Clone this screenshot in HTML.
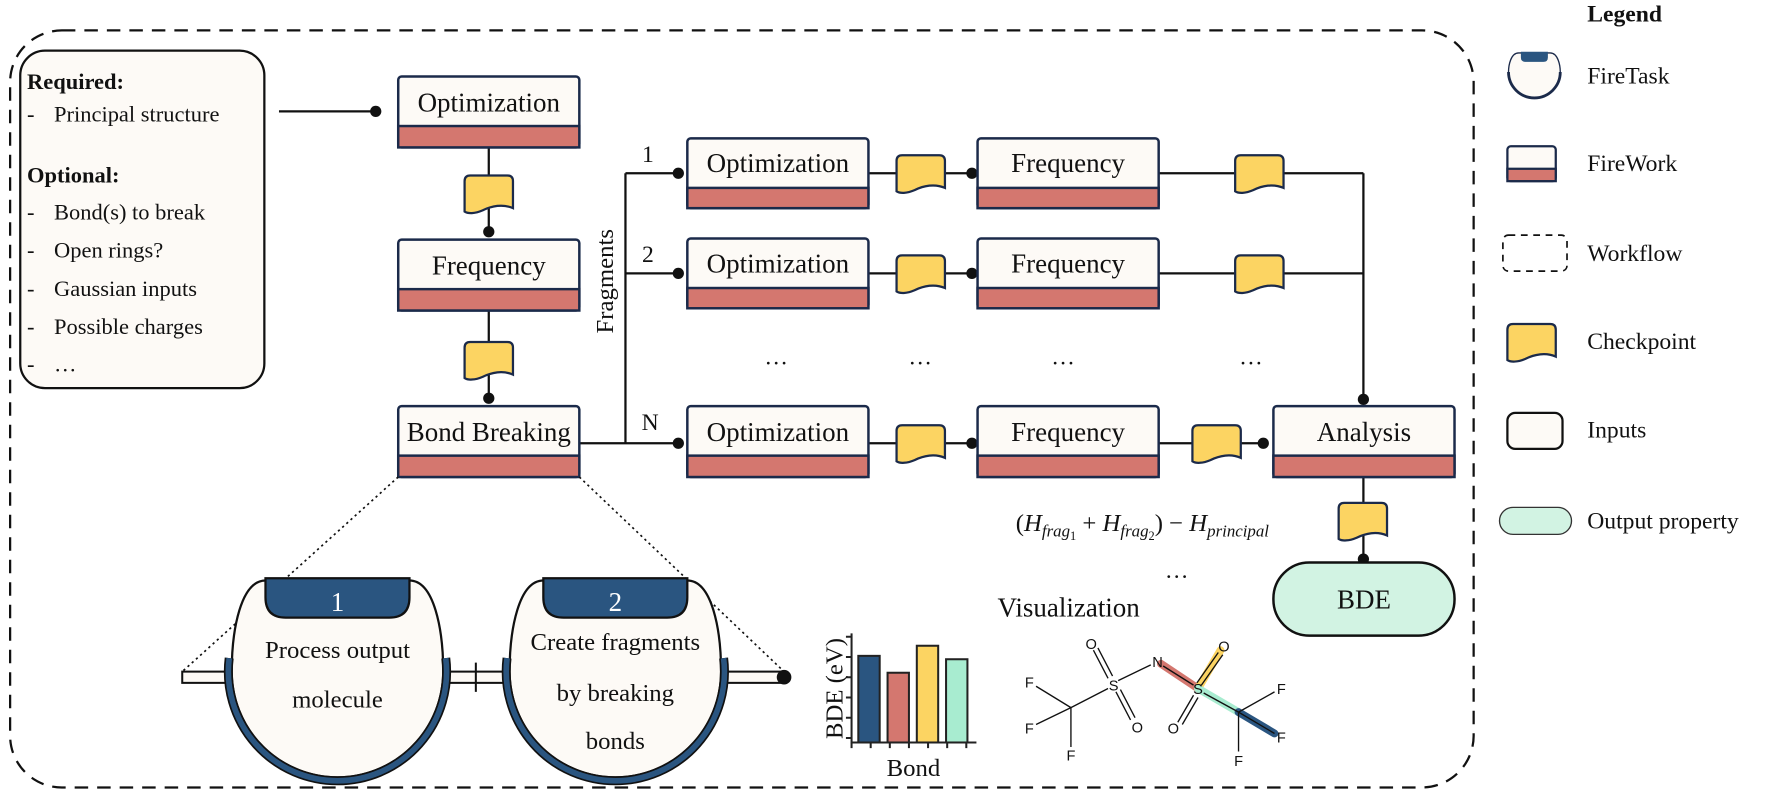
<!DOCTYPE html>
<html><head><meta charset="utf-8"><style>
html,body{margin:0;padding:0;background:#fff;}
svg{display:block;}
text{font-family:"Liberation Serif",serif;fill:#111;}
.sans text{font-family:"Liberation Sans",sans-serif;}
</style></head><body>
<svg width="1765" height="799" viewBox="0 0 1569 710.2" xmlns="http://www.w3.org/2000/svg">
<defs>
<path id="cp" d="M0,5 Q0,0 5,0 L38,0 Q43,0 43,5 L43,29 C34,25 24,27 16,31 C9,34 3,34 0,32 Z" fill="#fcd462" stroke="#1b2a4a" stroke-width="2"/>
</defs>
<rect x="9" y="27" width="1301" height="673" rx="46" fill="none" stroke="#111" stroke-width="2" stroke-dasharray="12,8"/>
<rect x="18" y="45" width="217" height="300" rx="22" fill="#fdfaf6" stroke="#111" stroke-width="2"/>
<g font-size="20">
<text x="24" y="79" font-weight="bold">Required:</text>
<text x="24" y="108">-</text><text x="48" y="108">Principal structure</text>
<text x="24" y="162" font-weight="bold">Optional:</text>
<text x="24" y="195">-</text><text x="48" y="195">Bond(s) to break</text>
<text x="24" y="229">-</text><text x="48" y="229">Open rings?</text>
<text x="24" y="263">-</text><text x="48" y="263">Gaussian inputs</text>
<text x="24" y="297">-</text><text x="48" y="297">Possible charges</text>
<text x="24" y="330">-</text><text x="48" y="330">…</text>
</g>
<g stroke="#111" stroke-width="2" fill="none">
<line x1="248" y1="99" x2="334" y2="99"/>
<line x1="434.5" y1="131" x2="434.5" y2="206"/>
<line x1="434.5" y1="276" x2="434.5" y2="354"/>
<line x1="515" y1="394" x2="603" y2="394"/>
<line x1="556" y1="154" x2="556" y2="394"/>
<line x1="556" y1="154" x2="603" y2="154"/>
<line x1="556" y1="243" x2="603" y2="243"/>
<line x1="772" y1="154" x2="864" y2="154"/>
<line x1="772" y1="243" x2="864" y2="243"/>
<line x1="772" y1="394" x2="864" y2="394"/>
<line x1="1030" y1="154" x2="1212" y2="154"/>
<line x1="1030" y1="243" x2="1212" y2="243"/>
<line x1="1212" y1="154" x2="1212" y2="355"/>
<line x1="1030" y1="394" x2="1123" y2="394"/>
<line x1="1212" y1="424" x2="1212" y2="497"/>
</g>
<g fill="#111">
<circle cx="334" cy="99" r="5"/><circle cx="434.5" cy="206" r="5"/><circle cx="434.5" cy="354" r="5"/>
<circle cx="603" cy="154" r="5"/><circle cx="603" cy="243" r="5"/><circle cx="603" cy="394" r="5"/>
<circle cx="864" cy="154" r="5"/><circle cx="864" cy="243" r="5"/><circle cx="864" cy="394" r="5"/>
<circle cx="1212" cy="355" r="5"/><circle cx="1123" cy="394" r="5"/><circle cx="1212" cy="497" r="5"/>
</g>
<use href="#cp" x="413" y="156"/><use href="#cp" x="413" y="304"/>
<use href="#cp" x="797" y="138"/><use href="#cp" x="797" y="227"/><use href="#cp" x="797" y="378"/>
<use href="#cp" x="1098" y="138"/><use href="#cp" x="1098" y="227"/><use href="#cp" x="1060" y="378"/>
<use href="#cp" x="1190" y="447"/>
<g font-size="24" text-anchor="middle">
<rect x="354" y="68" width="161" height="63" rx="3" fill="#fdfaf6" stroke="#1b2a4a" stroke-width="2.2"/><rect x="354" y="112" width="161" height="19" fill="#d4776f" stroke="#1b2a4a" stroke-width="2.2"/><text x="434.5" y="99">Optimization</text>
<rect x="354" y="213" width="161" height="63" rx="3" fill="#fdfaf6" stroke="#1b2a4a" stroke-width="2.2"/><rect x="354" y="257" width="161" height="19" fill="#d4776f" stroke="#1b2a4a" stroke-width="2.2"/><text x="434.5" y="244">Frequency</text>
<rect x="354" y="361" width="161" height="63" rx="3" fill="#fdfaf6" stroke="#1b2a4a" stroke-width="2.2"/><rect x="354" y="405" width="161" height="19" fill="#d4776f" stroke="#1b2a4a" stroke-width="2.2"/><text x="434.5" y="392">Bond Breaking</text>
<rect x="611" y="123" width="161" height="62" rx="3" fill="#fdfaf6" stroke="#1b2a4a" stroke-width="2.2"/><rect x="611" y="167" width="161" height="18" fill="#d4776f" stroke="#1b2a4a" stroke-width="2.2"/><text x="691.5" y="153">Optimization</text>
<rect x="869" y="123" width="161" height="62" rx="3" fill="#fdfaf6" stroke="#1b2a4a" stroke-width="2.2"/><rect x="869" y="167" width="161" height="18" fill="#d4776f" stroke="#1b2a4a" stroke-width="2.2"/><text x="949.5" y="153">Frequency</text>
<rect x="611" y="212" width="161" height="62" rx="3" fill="#fdfaf6" stroke="#1b2a4a" stroke-width="2.2"/><rect x="611" y="256" width="161" height="18" fill="#d4776f" stroke="#1b2a4a" stroke-width="2.2"/><text x="691.5" y="242">Optimization</text>
<rect x="869" y="212" width="161" height="62" rx="3" fill="#fdfaf6" stroke="#1b2a4a" stroke-width="2.2"/><rect x="869" y="256" width="161" height="18" fill="#d4776f" stroke="#1b2a4a" stroke-width="2.2"/><text x="949.5" y="242">Frequency</text>
<rect x="611" y="361" width="161" height="63" rx="3" fill="#fdfaf6" stroke="#1b2a4a" stroke-width="2.2"/><rect x="611" y="405" width="161" height="19" fill="#d4776f" stroke="#1b2a4a" stroke-width="2.2"/><text x="691.5" y="392">Optimization</text>
<rect x="869" y="361" width="161" height="63" rx="3" fill="#fdfaf6" stroke="#1b2a4a" stroke-width="2.2"/><rect x="869" y="405" width="161" height="19" fill="#d4776f" stroke="#1b2a4a" stroke-width="2.2"/><text x="949.5" y="392">Frequency</text>
<rect x="1132" y="361" width="161" height="63" rx="3" fill="#fdfaf6" stroke="#1b2a4a" stroke-width="2.2"/><rect x="1132" y="405" width="161" height="19" fill="#d4776f" stroke="#1b2a4a" stroke-width="2.2"/><text x="1212.5" y="392">Analysis</text>
<rect x="1132" y="500" width="161" height="65" rx="32" fill="#d2f3e3" stroke="#111" stroke-width="2.2"/><text x="1212.5" y="541">BDE</text>
<text x="950" y="548">Visualization</text>
</g>
<g font-size="21" text-anchor="middle">
<text x="576" y="144">1</text><text x="576" y="233">2</text><text x="578" y="382">N</text>
<text x="690" y="324">…</text><text x="818" y="324">…</text><text x="945" y="324">…</text><text x="1112" y="324">…</text>
<text x="1046" y="514">…</text>
</g>
<text x="0" y="0" font-size="22" text-anchor="middle" transform="translate(545,250) rotate(-90)">Fragments</text>
<text x="903" y="472" font-size="22">(<tspan font-style="italic">H</tspan><tspan font-style="italic" font-size="15" dy="5">frag</tspan><tspan font-size="11" dy="3">1</tspan><tspan dy="-8"> + </tspan><tspan font-style="italic">H</tspan><tspan font-style="italic" font-size="15" dy="5">frag</tspan><tspan font-size="11" dy="3">2</tspan><tspan dy="-8">) − </tspan><tspan font-style="italic">H</tspan><tspan font-style="italic" font-size="15" dy="5">principal</tspan></text>
<g stroke="#111" stroke-width="1.5" stroke-dasharray="2,3" fill="none">
<line x1="354" y1="424" x2="162" y2="597"/>
<line x1="515" y1="424" x2="697" y2="597"/>
</g>
<g stroke="#111" stroke-width="1.8">
<rect x="162" y="597" width="50" height="10" fill="#fdfaf6"/>
<rect x="390" y="597" width="66" height="10" fill="#fdfaf6"/>
<rect x="637" y="597" width="60" height="10" fill="#fdfaf6"/>
<line x1="423" y1="589" x2="423" y2="615"/>
</g>
<circle cx="697" cy="602" r="6.5" fill="#111"/>
<g>
<path d="M236,516 C214,516 206,560 206,597 A94,94 0 0 0 394,597 C394,560 386,516 364,516 Z" fill="#fdfaf6" stroke="#111" stroke-width="2"/>
<path d="M203.75,585 A97,97 0 1 0 396.25,585" fill="none" stroke="#111" stroke-width="8"/>
<path d="M203.75,585 A97,97 0 1 0 396.25,585" fill="none" stroke="#2a5580" stroke-width="5"/>
<path d="M236,514 L364,514 L364,531 Q364,549 346,549 L254,549 Q236,549 236,531 Z" fill="#2a5580" stroke="#111" stroke-width="2"/>
</g>
<g transform="translate(247,0)">
<path d="M236,516 C214,516 206,560 206,597 A94,94 0 0 0 394,597 C394,560 386,516 364,516 Z" fill="#fdfaf6" stroke="#111" stroke-width="2"/>
<path d="M203.75,585 A97,97 0 1 0 396.25,585" fill="none" stroke="#111" stroke-width="8"/>
<path d="M203.75,585 A97,97 0 1 0 396.25,585" fill="none" stroke="#2a5580" stroke-width="5"/>
<path d="M236,514 L364,514 L364,531 Q364,549 346,549 L254,549 Q236,549 236,531 Z" fill="#2a5580" stroke="#111" stroke-width="2"/>
</g>
<g font-size="22" text-anchor="middle">
<text x="300" y="543" style="fill:#fff" font-size="24">1</text>
<text x="547" y="543" style="fill:#fff" font-size="24">2</text>
<text x="300" y="585">Process output</text>
<text x="300" y="629">molecule</text>
<text x="547" y="578">Create fragments</text>
<text x="547" y="623">by breaking</text>
<text x="547" y="666">bonds</text>
</g>
<g stroke="#222" stroke-width="1.8">
<rect x="763" y="583" width="19" height="77" fill="#2a5580"/>
<rect x="789" y="598" width="19" height="62" fill="#d4776f"/>
<rect x="815" y="574" width="19" height="86" fill="#fcd462"/>
<rect x="841" y="586" width="19" height="74" fill="#a8ecd0"/>
<polyline points="757,563 757,660 868,660" fill="none"/>
<path d="M752,566H757M752,584H757M752,602H757M752,620H757M752,638H757M752,656H757M757,660V665M774,660V665M791,660V665M808,660V665M825,660V665M842,660V665M859,660V665" fill="none"/>
</g>
<text x="0" y="0" font-size="22" text-anchor="middle" transform="translate(749,612) rotate(-90)">BDE (eV)</text>
<text x="812" y="690" font-size="22" text-anchor="middle">Bond</text>
<g stroke-linecap="round">
<line x1="1032" y1="590" x2="1065" y2="612" stroke="#d4776f" stroke-width="7"/>
<line x1="1065" y1="612" x2="1085" y2="578" stroke="#fcd462" stroke-width="7"/>
<line x1="1065" y1="612" x2="1101" y2="633" stroke="#a8ecd0" stroke-width="7"/>
<line x1="1101" y1="633" x2="1133" y2="652" stroke="#2a5580" stroke-width="7"/>
</g>
<g stroke="#111" stroke-width="1.2" fill="none">
<line x1="921" y1="610" x2="952" y2="629"/>
<line x1="921" y1="644" x2="952" y2="629"/>
<line x1="952" y1="629" x2="952" y2="664"/>
<line x1="952" y1="629" x2="985" y2="612"/>
<line x1="994" y1="605" x2="1023" y2="591"/>
<line x1="972" y1="578" x2="985" y2="603"/><line x1="976" y1="576" x2="989" y2="601"/>
<line x1="992" y1="615" x2="1005" y2="640"/><line x1="996" y1="613" x2="1009" y2="638"/>
<line x1="1034" y1="592" x2="1061" y2="609"/>
<line x1="1064" y1="607" x2="1083" y2="580"/><line x1="1068" y1="609" x2="1087" y2="582"/>
<line x1="1047" y1="642" x2="1061" y2="618"/><line x1="1051" y1="644" x2="1065" y2="620"/>
<line x1="1070" y1="616" x2="1101" y2="633"/>
<line x1="1101" y1="633" x2="1133" y2="615"/>
<line x1="1101" y1="633" x2="1133" y2="652"/>
<line x1="1101" y1="633" x2="1101" y2="668"/>
</g>
<g class="sans" font-size="13" text-anchor="middle">
<text x="915" y="611">F</text><text x="915" y="652">F</text><text x="952" y="676">F</text>
<text x="990" y="614">S</text><text x="970" y="577">O</text><text x="1011" y="651">O</text>
<text x="1029" y="593">N</text><text x="1065" y="617">S</text>
<text x="1088" y="579">O</text><text x="1043" y="652">O</text>
<text x="1139" y="617">F</text><text x="1139" y="660">F</text><text x="1101" y="681">F</text>
</g>
<text x="1411" y="19" font-size="21" font-weight="bold">Legend</text>
<g>
<path d="M1350,47 C1343,47 1341,58 1341,64 A23,23 0 0 0 1387,64 C1387,58 1385,47 1378,47 Z" fill="#fdfaf6" stroke="#1b2a4a" stroke-width="1.2"/>
<path d="M1341,64 A23,23 0 0 0 1387,64" fill="none" stroke="#1b2a4a" stroke-width="2.5"/>
<path d="M1352,46 L1376,46 L1376,51 Q1376,55 1372,55 L1356,55 Q1352,55 1352,51 Z" fill="#2a5580"/>
</g>
<rect x="1340" y="130" width="43" height="31" rx="3" fill="#fdfaf6" stroke="#1b2a4a" stroke-width="2"/>
<rect x="1340" y="150" width="43" height="11" fill="#d4776f" stroke="#1b2a4a" stroke-width="2"/>
<rect x="1336" y="209" width="57" height="32" rx="5" fill="none" stroke="#111" stroke-width="1.5" stroke-dasharray="6,5"/>
<use href="#cp" x="1340" y="288"/>
<rect x="1340" y="367" width="49" height="32" rx="7" fill="#fdfaf6" stroke="#111" stroke-width="2"/>
<rect x="1333" y="451" width="64" height="24" rx="12" fill="#d2f3e3" stroke="#333" stroke-width="1.2"/>
<g font-size="21">
<text x="1411" y="74">FireTask</text>
<text x="1411" y="152">FireWork</text>
<text x="1411" y="232">Workflow</text>
<text x="1411" y="310">Checkpoint</text>
<text x="1411" y="389">Inputs</text>
<text x="1411" y="470">Output property</text>
</g>
</svg>
</body></html>
